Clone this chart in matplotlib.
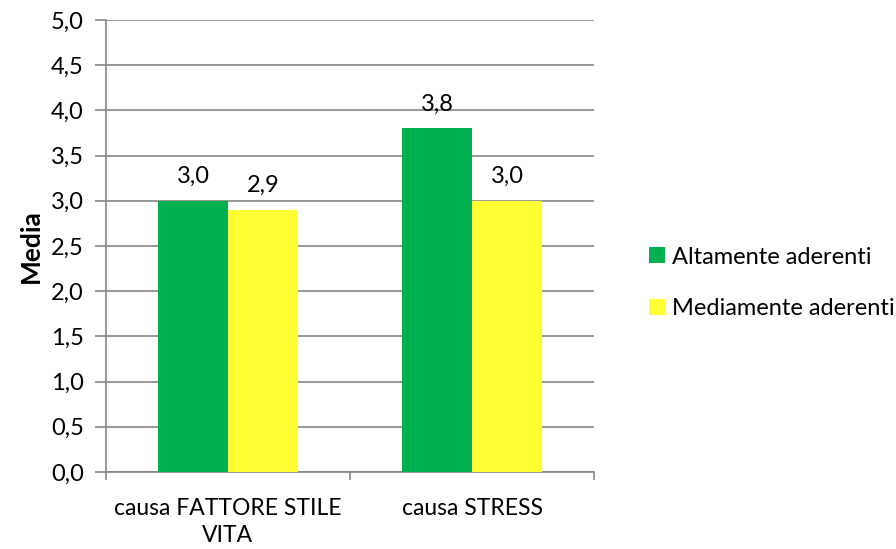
import matplotlib.pyplot as plt
import numpy as np

plt.rcParams['font.family'] = ['Lato', 'DejaVu Sans']

# Data
categories = ['causa FATTORE STILE\nVITA', 'causa STRESS']
series_names = ['Altamente aderenti', 'Mediamente aderenti']
altamente = [3.0, 3.8]
mediamente = [2.9, 3.0]
colors = ['#00B050', '#FFFF33']

fig = plt.figure(figsize=(8.96, 5.49), dpi=100)
ax = fig.add_axes([106 / 896, 1 - 472 / 549, (594 - 106) / 896, (472 - 20) / 549])

x = np.arange(len(categories))
w = 0.2875
b1 = ax.bar(x - w / 2, altamente, w, color=colors[0], label=series_names[0], zorder=3)
b2 = ax.bar(x + w / 2, mediamente, w, color=colors[1], label=series_names[1], zorder=3)

for bars, vals in [(b1, altamente), (b2, mediamente)]:
    for r, v in zip(bars, vals):
        ax.text(r.get_x() + r.get_width() / 2, v + 0.15, f'{v:.1f}'.replace('.', ','),
                ha='center', va='bottom', fontsize=17)

grid_col = '#868686'
ax.set_ylim(0, 5)
ax.set_xlim(-0.5, 1.5)
yt = np.arange(0, 5.01, 0.5)
ax.set_yticks(yt)
ax.set_yticklabels([f'{t:.1f}'.replace('.', ',') for t in yt], fontsize=17)
ax.yaxis.grid(True, color=grid_col, linewidth=1.2, zorder=0)
ax.tick_params(axis='y', length=8, width=1.2, color=grid_col, pad=8)

ax.set_xticks([-0.5, 0.5, 1.5])
ax.set_xticklabels([])
ax.set_xticks(x, minor=True)
ax.set_xticklabels(categories, minor=True, fontsize=16.5, linespacing=1.35)
ax.tick_params(axis='x', which='major', length=6, width=1.2, color=grid_col, direction='out')
ax.tick_params(axis='x', which='minor', length=0, pad=19)

for s in ['top', 'right']:
    ax.spines[s].set_visible(False)
for s in ['left', 'bottom']:
    ax.spines[s].set_color(grid_col)
    ax.spines[s].set_linewidth(1.2)

ax.set_ylabel('Media', fontsize=19, fontweight='bold', labelpad=6)

fig.legend(handles=[b1, b2], labels=series_names, loc='center left',
           bbox_to_anchor=(628 / 896, 1 - 283 / 549), frameon=False, fontsize=17,
           handlelength=0.65, handleheight=0.65, handletextpad=0.3, labelspacing=1.3)

plt.savefig('out.png', dpi=100)
